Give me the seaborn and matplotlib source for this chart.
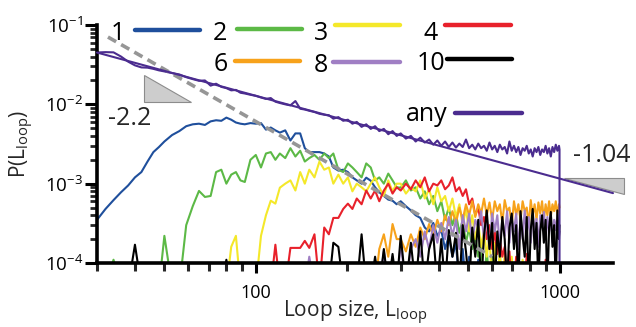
import numpy as np
import pandas as pd
import matplotlib
matplotlib.use("Agg")
import matplotlib.pyplot as plt
import seaborn as sns
from matplotlib.lines import Line2D
from matplotlib.patches import Polygon
from matplotlib.ticker import LogLocator, FixedLocator, FixedFormatter, NullFormatter, LogFormatterSciNotation

# ---------------- data (probabilities in units of 1e-4) ----------------
UNIT = 1e-4
loop_size = [30, 32, 34, 36, 38, 40, 42, 44, 46, 48, 50, 53, 56, 59, 62, 65, 68, 71, 74, 77, 80, 83, 86, 89, 92, 96,
             100, 104, 108, 112, 116, 120, 125, 130, 135, 140, 145, 150, 156, 162, 168, 174, 180, 187, 194, 201, 208,
             215, 223, 231, 239, 247, 255, 264, 273, 282, 291,
             300, 312, 324, 336, 348, 360, 372, 384, 396, 408,
             420, 432, 444, 456, 468, 480, 492, 504, 516, 528,
             540, 552, 564, 576, 588, 600, 612, 624, 636, 648,
             660, 672, 684, 696, 708, 720, 732, 744, 756, 768,
             780, 792, 804, 816, 828, 840, 852, 864, 876, 888,
             900, 912, 924, 936, 948, 960, 972, 984, 996, 1000]

p_1 = [3.5, 4.8, 6.2, 7.8, 9.5, 12, 14, 19, 25, 29, 34, 41, 46, 53, 56, 57, 55, 61, 63, 62, 68, 64, 59, 57, 56, 58,
       57, 58, 48, 51, 47, 44, 47, 35, 43, 43, 28, 25, 25, 25, 24, 22, 16, 14.6, 15, 14, 12, 11, 10, 11.9, 10.9,
       9, 7.8, 7, 6.3, 6.1, 5.5,
       6, 5.2, 4.6, 4, 3.7, 2.8, 2.5, 3.2, 2.2, 2.6,
       1.5, 2.2, 1.2, 1.8, 0, 1.5, 0, 1.2, 0, 0,
       1.1, 0, 0, 0, 0, 0, 0, 0, 0, 0,
       0, 0, 0, 0, 0, 0, 0, 0, 0, 0,
       0, 0, 0, 0, 0, 0, 0, 0, 0, 0,
       0, 0, 0, 0, 0, 0, 0, 0, 0, 0]

p_2 = [0, 0, 1.1, 0, 0, 0, 0, 0, 0, 0, 2.2, 0, 0, 3, 5.2, 8.1, 6.8, 7, 14, 15, 10, 13, 14, 11, 10.5, 20,
       23, 16, 24, 25, 20, 24, 21, 28, 22, 26, 19, 21, 23, 20, 24, 21, 24, 15, 14, 18, 16, 14, 12, 18, 16,
       11, 12, 10, 13.4, 11, 9,
       8.9, 11, 8.2, 9, 6.5, 8, 5.5, 7, 4.5, 6,
       3.5, 5, 3, 4.2, 2.4, 3.5, 1.8, 2.8, 1.5, 2.2,
       1.2, 1.8, 0, 1.5, 0, 1.2, 0, 0, 1.1, 0,
       0, 0, 0, 1.1, 0, 0, 0, 0, 0, 0,
       0, 0, 0, 0, 0, 0, 0, 0, 0, 0,
       0, 0, 0, 0, 0, 0, 0, 0, 0, 0]

p_3 = [0, 0, 0, 0, 0, 0, 0, 0, 0, 0, 0, 0, 0, 0, 0, 0, 0, 0, 0, 0, 0, 1.6, 2.2, 0, 0, 0,
       0, 2.2, 4, 6.1, 5.6, 8.9, 10, 11, 8.2, 14, 10, 15, 12, 19, 15, 16, 10, 13, 10, 12, 8,
       10, 9, 8, 10, 12, 9, 7, 11, 8, 10,
       10, 7.5, 9, 8, 11, 6.5, 8.5, 5.5, 9, 6,
       7, 4.5, 6.5, 3.8, 5.5, 3, 4.8, 2.5, 4, 2,
       3.2, 1.6, 2.6, 1.2, 2.2, 0, 1.8, 0, 1.5, 0,
       1.3, 0, 0, 1.2, 0, 0, 0, 0, 1.1, 0,
       0, 0, 0, 0, 0, 0, 0, 0, 0, 0,
       0, 0, 0, 0, 0, 0, 0, 0, 0, 0]

p_4 = [0, 0, 0, 0, 0, 0, 0, 0, 0, 0, 0, 0, 0, 0, 0, 0, 0, 0, 0, 0, 0, 0, 0, 0, 0, 0,
       0, 0, 0, 0, 1.7, 0, 0, 1.55, 1.55, 1.55, 1.9, 1.55, 2.3, 0, 2.8, 2.3, 3.7, 3.7, 4.8, 5.6, 4.8,
       6.5, 5.5, 8.2, 6.5, 8.2, 6, 8.2, 10, 7.5, 9,
       8.2, 10, 8.5, 11, 9, 12, 8, 10, 9.5, 11,
       8.5, 9.5, 12, 8, 9, 7, 8.5, 5.5, 6.5, 4,
       5, 3, 3.8, 2, 3, 1.5, 2.5, 1.3, 2, 1.2,
       1.6, 0, 1.4, 0, 0, 1.2, 0, 0, 0, 0,
       1.3, 0, 0, 0, 0, 0, 0, 0, 0, 0,
       1.1, 0, 0, 0, 0, 0, 0, 0, 0, 0]

p_6 = [0, 0, 0, 0, 0, 0, 0, 0, 0, 0, 0, 0, 0, 0, 0, 0, 0, 0, 0, 0, 0, 0, 0, 0, 0, 0,
       0, 0, 0, 0, 0, 0, 1.0, 0, 0, 0, 0, 0, 0, 0, 0, 0, 0, 0, 0, 0, 0,
       0, 0, 0, 0, 0, 1.5, 2.3, 1.2, 3.1, 2,
       2, 1.4, 2.3, 1.6, 2.8, 2, 3.1, 2.2, 3.5, 2.5,
       4, 3, 4.5, 3.2, 5, 3.5, 5.5, 4, 6, 3.8,
       5.5, 4.2, 6.5, 4, 5.8, 3.5, 6, 4.5, 5.5, 3.2,
       6.2, 4.5, 5, 3, 6, 4, 5.5, 3.5, 6, 4.5,
       5, 3, 6.2, 4, 5.5, 3.5, 5.8, 4.2, 6, 3.5,
       5.5, 4, 6, 3.8, 5.5, 4.5, 6, 4, 5.5, 5]

p_8 = [0, 0, 0, 0, 0, 0, 0, 0, 0, 0, 0, 0, 0, 0, 0, 0, 0, 0, 0, 0, 0, 0, 0, 0, 0, 0,
       0, 0, 0, 0, 0, 0, 0, 0, 0, 0, 0, 1.2, 0, 0, 0, 0, 0, 0, 0, 0, 0,
       0, 0, 0, 0, 0, 0, 1.4, 0, 1.2, 0,
       1.8, 0, 1.5, 2, 1.2, 2.5, 1.5, 3, 1.8, 3.2,
       2, 3.8, 2.2, 3.5, 1.5, 4, 2.5, 4.2, 1.8, 3.5,
       2.8, 4.5, 2, 3.8, 1.5, 4.2, 2.5, 4, 1.6, 3.5,
       2.2, 4.5, 1.8, 3.8, 2.5, 4.2, 1.5, 3.5, 2, 4.6,
       2.4, 3.8, 1.8, 4.2, 2.5, 3.6, 1.6, 4, 2.8, 4.4,
       2, 3.8, 2.5, 4.2, 1.8, 3.5, 2.6, 4, 2.2, 2.5]

p_10 = [0, 0, 0, 0, 0, 1.7, 0, 0, 0, 0, 0, 0, 0, 0, 0, 0, 0, 0, 0, 0, 1.1, 0, 0, 0, 0, 0,
        0, 0, 0, 0, 0, 0, 0, 0, 0, 0, 0, 0, 0, 0, 0, 0, 1.8, 1.6, 0, 0, 0,
        0, 2.3, 0, 0, 1.2, 0, 1.5, 0, 1.3, 0,
        2.2, 0, 1.8, 0, 2.5, 0, 1.5, 2.3, 0, 2,
        0, 2.6, 1.2, 2.4, 0, 3, 1.4, 0, 2.8, 1.2,
        3.5, 0, 2.2, 4.6, 1.5, 3.2, 0, 2.5, 1.2, 3.8,
        2, 0, 2.8, 4.2, 1.5, 3, 0, 4.5, 2.2, 1.2,
        3.8, 0, 2.6, 4.8, 1.5, 3.2, 0, 2.5, 4, 1.8,
        3.5, 0, 2.8, 4.4, 1.6, 3, 0, 4.6, 2, 3]

p_any = [450, 455, 452, 400, 345, 310, 292, 290, 280, 268, 260, 248, 238, 220, 208, 198, 200, 172, 182, 166,
         160, 150, 152, 140, 137, 132,
         128, 122, 117, 120, 108, 104, 100, 97, 110, 88, 86, 83, 80, 76, 74, 73, 66, 69, 62, 64, 57,
         60, 52, 56, 49, 53, 46, 49, 42, 46, 40,
         43, 37, 40, 34, 38, 33, 36, 31, 35, 30,
         34, 29, 33, 28.5, 32, 29, 36, 28, 31, 27,
         32, 28, 30, 26, 33, 27, 30, 25, 31, 27,
         29, 24, 34, 26, 30, 25, 29, 23, 28, 26,
         30, 24, 27, 22, 28, 25, 29, 23, 27, 25,
         30, 24, 28, 22, 29, 25, 31, 26, 30, 27]

series_names = ["1", "2", "3", "4", "6", "8", "10", "any"]
series_values = [p_1, p_2, p_3, p_4, p_6, p_8, p_10, p_any]
series_colors = ["#1f4f9c", "#5cb946", "#f4e82a", "#e8212b", "#f7a21b", "#a07fc4", "#000000", "#4b2c8f"]

# power-law guides (slopes -2.2 and -1.04)
guide_steep_x = [32.6, 600]
guide_steep_y = [0.0705, 1.2e-4]
guide_any_x = [30, 1500]
guide_any_y = [0.045, 7.6e-4]

# ---------------- build long-form table ----------------
FLOOR = 0.5  # zero counts drawn just below the axis (clipped)
rows = []
for name, vals in zip(series_names, series_values):
    assert len(vals) == len(loop_size), (name, len(vals))
    for x, v in zip(loop_size, vals):
        rows.append({"series": name, "L": x, "P": max(v, FLOOR) * UNIT})
    if name == "any":
        rows.append({"series": name, "L": loop_size[-1], "P": FLOOR * UNIT})
df = pd.DataFrame(rows)

# ---------------- style ----------------
sns.set_theme(style="ticks")
plt.rcParams["font.family"] = ["Open Sans", "DejaVu Sans"]
plt.rcParams["mathtext.default"] = "regular"
plt.rcParams["axes.unicode_minus"] = False

W, H = 636, 327
fig = plt.figure(figsize=(W / 100, H / 100), dpi=100)
ax = fig.add_axes([97 / W, 1 - 263 / H, 516 / W, 238 / H])
ax.set_xscale("log")
ax.set_yscale("log")

palette = dict(zip(series_names, series_colors))
sns.lineplot(data=df, x="L", y="P", hue="series", hue_order=series_names, palette=palette,
             estimator=None, sort=False, legend=False, linewidth=1.5, ax=ax)

ax.plot(guide_steep_x, guide_steep_y, color="#969696", lw=2.6, ls=(0, (2.6, 1.6)), zorder=5)
ax.plot(guide_any_x, guide_any_y, color="#4b2c8f", lw=1.5, zorder=6, clip_on=False)

# slope triangles
tri_left = Polygon([(42.8, 0.0233), (42.8, 0.0106), (61, 0.0106)], closed=True,
                   facecolor="#cdcdcd", edgecolor="#8c8c8c", lw=0.8, zorder=4)
tri_right = Polygon([(1031, 1.19e-3), (1626, 1.19e-3), (1626, 7.5e-4)], closed=True,
                    facecolor="#cdcdcd", edgecolor="#8c8c8c", lw=0.8, zorder=4, clip_on=False)
ax.add_patch(tri_left)
ax.add_patch(tri_right)

ax.set_xlim(30, 1500)
ax.set_ylim(1e-4, 1e-1)

# ticks
ax.xaxis.set_major_locator(FixedLocator([100, 1000]))
ax.xaxis.set_major_formatter(FixedFormatter(["100", "1000"]))
ax.xaxis.set_minor_locator(FixedLocator([30, 40, 50, 60, 70, 80, 90, 200, 300, 400, 500, 600, 700, 800, 900]))
ax.xaxis.set_minor_formatter(NullFormatter())
ax.yaxis.set_major_locator(LogLocator(base=10, numticks=10))
ax.yaxis.set_major_formatter(LogFormatterSciNotation())
ax.yaxis.set_minor_locator(LogLocator(base=10, subs=np.arange(2, 10), numticks=20))
ax.yaxis.set_minor_formatter(NullFormatter())
ax.tick_params(axis="x", which="major", direction="out", length=7, width=2.2, pad=8, labelsize=13, colors="black")
ax.tick_params(axis="x", which="minor", direction="out", length=6, width=2.2)
ax.tick_params(axis="y", which="major", direction="out", length=9, width=2.2, pad=1, labelsize=13.5, colors="black")
ax.tick_params(axis="y", which="minor", direction="out", length=5, width=2.0)

for s in ["top", "right"]:
    ax.spines[s].set_visible(False)
for s in ["left", "bottom"]:
    ax.spines[s].set_linewidth(2.6)
    ax.spines[s].set_color("black")

ax.set_xlabel("Loop size, L$_{loop}$", fontsize=15)
ax.set_ylabel("P(L$_{loop}$)", fontsize=15)
ax.xaxis.set_label_coords(0.5, (263 - 299) / 238)
ax.yaxis.set_label_coords((36 - 97) / 516, 0.5)

# ---------------- manual legend ----------------
def fp(px, py):
    return px / W, 1 - py / H

legend_layout = {
    "1": (125, 40, 135, 200, 30),
    "2": (227, 40, 237, 302, 29),
    "3": (328, 40, 335, 400, 25),
    "4": (438, 40, 445, 511, 25),
    "6": (228, 71, 235, 300, 61),
    "8": (328, 72, 333, 400, 62),
    "10": (445, 70, 447, 512, 59),
    "any": (448, 121, 455, 522, 113),
}
for name, (tx, ty, x0, x1, ly) in legend_layout.items():
    fig.text(*fp(tx, ty), name, fontsize=18, ha="right", va="baseline", color="black")
    (ax0, ay0), (ax1, ay1) = fp(x0, ly), fp(x1, ly)
    fig.add_artist(Line2D([ax0, ax1], [ay0, ay1], transform=fig.transFigure,
                          color=palette[name], lw=3.2, solid_capstyle="round"))

fig.text(*fp(129.5, 125), "-2.2", fontsize=18, ha="center", va="baseline")
fig.text(*fp(602, 162), "-1.04", fontsize=18, ha="center", va="baseline")

fig.savefig("out.png", dpi=100, facecolor="white")
